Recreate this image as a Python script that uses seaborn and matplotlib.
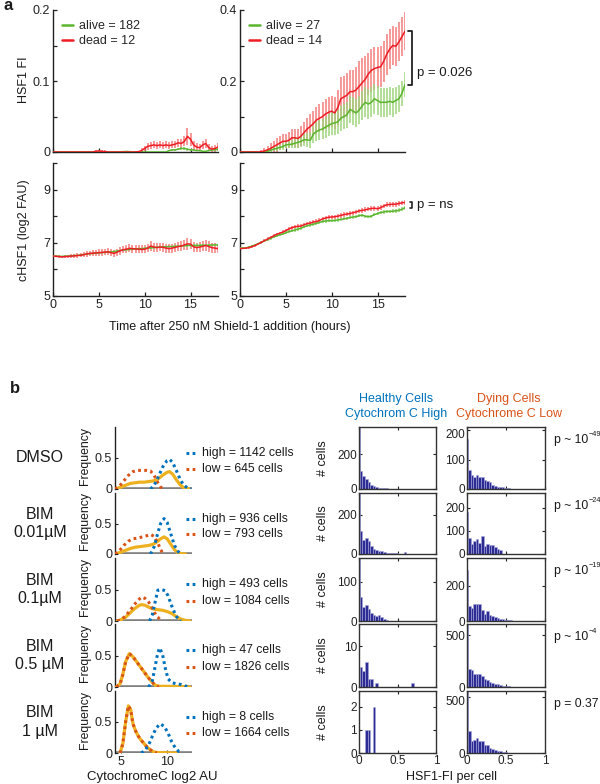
import numpy as np
import pandas as pd
import matplotlib
matplotlib.use("Agg")
import matplotlib.pyplot as plt
from matplotlib.lines import Line2D
from matplotlib.transforms import ScaledTranslation
import seaborn as sns

# ---------------- data: panel a (time courses, every 20 min) ----------------
hours_per_step = 1 / 3
tl_dead_m = [0.0] * 14 + [0.001, 0.0015, 0.001, 0.0005, 0, 0, 0, 0, 0, 0, 0, 0, 0, 0, 0.0005,
             0.002, 0.005, 0.008, 0.009, 0.01, 0.009, 0.01, 0.009, 0.01, 0.009, 0.01, 0.011, 0.013,
             0.012, 0.015, 0.022, 0.018, 0.01, 0.007, 0.006, 0.01, 0.012, 0.006, 0.004, 0.005, 0.007]
tl_dead_e = [0.0] * 14 + [0.002, 0.002, 0.002, 0.002] + [0.0] * 11 + \
            [0.003, 0.004, 0.005, 0.005, 0.005, 0.005, 0.005, 0.005, 0.005, 0.005, 0.005, 0.005, 0.006,
             0.006, 0.007, 0.012, 0.009, 0.006, 0.005, 0.005, 0.006, 0.006, 0.005, 0.005, 0.005, 0.005]
tl_alive_m = [0.0] * 23 + [0.0005, 0.0008, 0.0005] + [0.0] * 12 + \
             [0.002, 0.003, 0.003, 0.004, 0.005, 0.005, 0.004, 0.003, 0.003, 0.002, 0.002, 0.001,
              0.001, 0.002, 0.003, 0.003, 0.004]
tl_alive_e = [0.0] * 38 + [0.001, 0.001, 0.0015, 0.0015, 0.002, 0.002, 0.002, 0.0015, 0.0015, 0.001,
                           0.001, 0.001, 0.001, 0.001, 0.0015, 0.0015, 0.002]

tr_dead_m = [0.0] * 7 + [0.001, 0.003, 0.006, 0.01, 0.015, 0.02, 0.025, 0.03, 0.03, 0.033,
                         0.04, 0.04, 0.038, 0.045, 0.055, 0.065, 0.072, 0.08, 0.09, 0.095,
                         0.1, 0.107, 0.112, 0.115, 0.11, 0.125, 0.15, 0.155, 0.16, 0.17,
                         0.17, 0.175, 0.185, 0.195, 0.205, 0.22, 0.23, 0.235, 0.238, 0.24,
                         0.255, 0.275, 0.29, 0.3, 0.298, 0.31, 0.325, 0.34]
tr_dead_e = [0.0] * 7 + [0.004, 0.008, 0.012, 0.015, 0.017, 0.019, 0.02, 0.02, 0.02, 0.022,
                         0.024, 0.025, 0.026, 0.028, 0.03, 0.032, 0.034, 0.036, 0.038, 0.04,
                         0.042, 0.043, 0.044, 0.044, 0.045, 0.05, 0.06, 0.06, 0.062, 0.06,
                         0.062, 0.065, 0.07, 0.07, 0.065, 0.06, 0.06, 0.06, 0.058, 0.058,
                         0.058, 0.058, 0.056, 0.055, 0.055, 0.055, 0.055, 0.054]
tr_alive_m = [0.0] * 9 + [0.002, 0.005, 0.008, 0.01, 0.013, 0.015, 0.02, 0.021, 0.022, 0.025,
                          0.027, 0.03, 0.035, 0.034, 0.033, 0.05, 0.058, 0.062, 0.065, 0.07,
                          0.075, 0.08, 0.082, 0.085, 0.095, 0.1, 0.105, 0.12, 0.115, 0.11,
                          0.118, 0.13, 0.14, 0.135, 0.14, 0.15, 0.145, 0.14, 0.14, 0.14,
                          0.143, 0.14, 0.145, 0.15, 0.165, 0.19]
tr_alive_e = [0.0] * 9 + [0.004, 0.005, 0.006, 0.007, 0.008, 0.009, 0.01, 0.011, 0.012, 0.014,
                          0.016, 0.017, 0.018, 0.02, 0.022, 0.024, 0.026, 0.028, 0.029, 0.03,
                          0.031, 0.032, 0.033, 0.034, 0.035, 0.036, 0.037, 0.038, 0.04, 0.04,
                          0.04, 0.041, 0.042, 0.042, 0.042, 0.042, 0.042, 0.041, 0.041, 0.04,
                          0.04, 0.04, 0.039, 0.038, 0.036, 0.035]

bl_dead_m = [6.50, 6.49, 6.48, 6.47, 6.48, 6.49, 6.50, 6.51, 6.52, 6.53,
             6.55, 6.58, 6.60, 6.61, 6.62, 6.63, 6.64, 6.65, 6.66, 6.63,
             6.60, 6.65, 6.70, 6.74, 6.76, 6.79, 6.78, 6.77, 6.76, 6.75,
             6.76, 6.80, 6.88, 6.84, 6.82, 6.84, 6.83, 6.80, 6.78, 6.80,
             6.83, 6.86, 6.88, 6.92, 6.96, 6.95, 6.85, 6.82, 6.84, 6.87,
             6.90, 6.86, 6.82, 6.80, 6.78]
bl_dead_e = [0.04, 0.04, 0.05, 0.05, 0.06, 0.06, 0.07, 0.07, 0.08, 0.08,
             0.09, 0.10, 0.10, 0.11, 0.11, 0.12, 0.12, 0.12, 0.13, 0.13,
             0.13, 0.13, 0.14, 0.14, 0.14, 0.15, 0.15, 0.15, 0.15, 0.15,
             0.15, 0.16, 0.20, 0.17, 0.16, 0.16, 0.17, 0.17, 0.17, 0.17,
             0.18, 0.18, 0.18, 0.20, 0.22, 0.20, 0.18, 0.18, 0.18, 0.19,
             0.20, 0.20, 0.19, 0.18, 0.18]
bl_alive_m = [6.50, 6.50, 6.49, 6.49, 6.50, 6.50, 6.51, 6.52, 6.53, 6.54,
              6.56, 6.58, 6.59, 6.60, 6.61, 6.62, 6.63, 6.64, 6.65, 6.66,
              6.67, 6.69, 6.71, 6.73, 6.74, 6.75, 6.76, 6.77, 6.78, 6.78,
              6.79, 6.80, 6.81, 6.82, 6.83, 6.84, 6.85, 6.85, 6.86, 6.86,
              6.87, 6.87, 6.88, 6.89, 6.90, 6.90, 6.90, 6.90, 6.90, 6.91,
              6.91, 6.91, 6.92, 6.92, 6.92]
bl_alive_e = [0.02, 0.02, 0.02, 0.02, 0.02, 0.02, 0.02, 0.025, 0.025, 0.025,
              0.025, 0.025, 0.025, 0.03, 0.03, 0.03, 0.03, 0.03, 0.03, 0.03,
              0.03, 0.03, 0.03, 0.03, 0.03, 0.03, 0.03, 0.03, 0.03, 0.03,
              0.035, 0.035, 0.035, 0.035, 0.035, 0.035, 0.035, 0.035, 0.035, 0.035,
              0.035, 0.035, 0.04, 0.04, 0.04, 0.04, 0.04, 0.04, 0.04, 0.04,
              0.04, 0.04, 0.04, 0.04, 0.04]

br_dead_m = [6.78, 6.79, 6.80, 6.82, 6.86, 6.90, 6.96, 7.02, 7.08, 7.14,
             7.20, 7.26, 7.32, 7.36, 7.40, 7.46, 7.52, 7.57, 7.60, 7.62,
             7.63, 7.68, 7.72, 7.74, 7.78, 7.80, 7.84, 7.90, 7.93, 7.96,
             7.97, 7.98, 8.00, 8.03, 8.06, 8.08, 8.10, 8.13, 8.16, 8.20,
             8.22, 8.24, 8.27, 8.29, 8.30, 8.28, 8.32, 8.38, 8.43, 8.44,
             8.45, 8.45, 8.48, 8.50, 8.52]
br_dead_e = [0.04, 0.04, 0.04, 0.05, 0.05, 0.05, 0.05, 0.05, 0.06, 0.06,
             0.06, 0.06, 0.06, 0.06, 0.07, 0.07, 0.07, 0.07, 0.07, 0.07,
             0.07, 0.07, 0.07, 0.07, 0.08, 0.08, 0.08, 0.08, 0.08, 0.08,
             0.08, 0.08, 0.08, 0.08, 0.08, 0.08, 0.08, 0.08, 0.08, 0.08,
             0.09, 0.09, 0.09, 0.09, 0.09, 0.09, 0.09, 0.09, 0.09, 0.09,
             0.09, 0.09, 0.09, 0.09, 0.09]
br_alive_m = [6.80, 6.80, 6.81, 6.84, 6.88, 6.92, 6.97, 7.02, 7.07, 7.12,
              7.17, 7.22, 7.26, 7.30, 7.33, 7.38, 7.42, 7.45, 7.48, 7.52,
              7.55, 7.60, 7.64, 7.67, 7.70, 7.73, 7.77, 7.80, 7.82, 7.83,
              7.83, 7.84, 7.86, 7.88, 7.90, 7.92, 7.95, 7.97, 7.98, 8.02,
              8.04, 8.00, 7.98, 8.00, 8.06, 8.10, 8.14, 8.16, 8.18, 8.18,
              8.19, 8.20, 8.22, 8.26, 8.32]
br_alive_e = [0.03, 0.03, 0.03, 0.04, 0.04, 0.04, 0.04, 0.04, 0.05, 0.05,
              0.05, 0.05, 0.05, 0.05, 0.05, 0.05, 0.05, 0.05, 0.06, 0.06,
              0.06, 0.06, 0.06, 0.06, 0.06, 0.06, 0.06, 0.06, 0.06, 0.06,
              0.06, 0.06, 0.06, 0.06, 0.06, 0.06, 0.06, 0.06, 0.06, 0.06,
              0.06, 0.06, 0.06, 0.06, 0.07, 0.07, 0.07, 0.07, 0.07, 0.07,
              0.07, 0.07, 0.07, 0.07, 0.07]

left_labels = ["alive = 182", "dead = 12"]
right_labels = ["alive = 27", "dead = 14"]

# ---------------- data: panel b ----------------
conditions = ["DMSO", "BIM\n0.01µM", "BIM\n0.1µM", "BIM\n0.5 µM", "BIM\n1 µM"]
high_cells = [1142, 936, 493, 47, 8]
low_cells = [645, 793, 1084, 1826, 1664]
p_base = ["p ~ 10", "p ~ 10", "p ~ 10", "p ~ 10", "p = 0.37"]
p_exp = ["\u221249", "\u221224", "\u221219", "\u22124", ""]

high_x = [[8.2, 8.6, 9.0, 9.5, 10.0, 10.25, 10.6, 11.0, 11.4, 11.8, 12.3, 12.6],
          [8.2, 8.6, 9.0, 9.3, 9.67, 10.0, 10.4, 10.8, 11.2, 11.5],
          [8.1, 8.4, 8.7, 9.0, 9.4, 9.8, 10.1, 10.5, 10.9, 11.2, 11.5],
          [8.0, 8.4, 8.8, 9.0, 9.2, 9.5, 9.8, 10.1, 10.5, 11.0, 11.5, 12.0, 12.5],
          [7.2, 7.6, 8.0, 8.4, 8.8, 9.25, 9.7, 10.1, 10.5, 10.9, 11.3, 11.6]]
high_y = [[0, 0.06, 0.18, 0.35, 0.46, 0.48, 0.43, 0.30, 0.16, 0.06, 0.01, 0],
          [0, 0.12, 0.35, 0.50, 0.58, 0.52, 0.33, 0.14, 0.04, 0],
          [0, 0.10, 0.30, 0.49, 0.50, 0.48, 0.40, 0.24, 0.10, 0.03, 0],
          [0, 0.10, 0.40, 0.55, 0.62, 0.52, 0.30, 0.13, 0.07, 0.05, 0.04, 0.015, 0],
          [0, 0.04, 0.13, 0.27, 0.40, 0.47, 0.43, 0.32, 0.18, 0.08, 0.02, 0]]
low_x = [[4.35, 4.8, 5.3, 5.8, 6.3, 6.8, 7.3, 7.8, 8.2, 8.6, 9.0, 9.3, 9.6],
         [4.35, 4.8, 5.3, 5.8, 6.3, 6.8, 7.3, 7.8, 8.2, 8.6, 9.0, 9.3, 9.6],
         [4.6, 5.0, 5.5, 6.0, 6.5, 7.0, 7.25, 7.6, 8.0, 8.4, 8.8, 9.2, 9.5],
         [4.5, 4.9, 5.2, 5.5, 5.9, 6.3, 6.7, 7.1, 7.5, 7.9, 8.3, 8.7, 9.1],
         [4.9, 5.2, 5.5, 5.8, 6.05, 6.3, 6.6, 6.85, 7.1, 7.4, 7.8, 8.1, 8.5, 8.9]]
low_y = [[0, 0.04, 0.13, 0.22, 0.28, 0.30, 0.30, 0.30, 0.29, 0.22, 0.10, 0.03, 0],
         [0, 0.05, 0.14, 0.21, 0.25, 0.26, 0.28, 0.30, 0.32, 0.29, 0.18, 0.07, 0],
         [0, 0.02, 0.08, 0.17, 0.27, 0.35, 0.38, 0.36, 0.30, 0.20, 0.09, 0.03, 0],
         [0, 0.05, 0.20, 0.40, 0.53, 0.48, 0.40, 0.32, 0.24, 0.16, 0.09, 0.03, 0],
         [0, 0.15, 0.50, 0.76, 0.70, 0.47, 0.35, 0.28, 0.22, 0.17, 0.10, 0.06, 0.02, 0]]
all_x = [[4.35, 5.0, 5.5, 6.0, 6.5, 7.0, 7.5, 8.0, 8.5, 9.0, 9.5, 10.0, 10.25, 10.6, 11.0, 11.4, 11.8, 12.4],
         [4.35, 5.0, 5.5, 6.0, 6.5, 7.0, 7.5, 8.0, 8.5, 9.0, 9.3, 9.67, 10.0, 10.4, 10.8, 11.2, 11.6, 12.0],
         [4.6, 5.0, 5.5, 6.0, 6.5, 7.0, 7.25, 7.6, 8.0, 8.5, 9.0, 9.5, 10.0, 10.5, 11.0, 11.5, 12.0, 12.5],
         [4.5, 4.9, 5.2, 5.5, 5.9, 6.3, 6.7, 7.1, 7.5, 7.9, 8.3, 8.7, 9.1, 10.0, 11.0, 12.0, 12.5],
         [4.9, 5.2, 5.5, 5.8, 6.05, 6.3, 6.6, 6.85, 7.1, 7.4, 7.8, 8.1, 8.5, 8.9, 10.0, 11.0]]
all_y = [[0, 0.03, 0.06, 0.09, 0.10, 0.11, 0.11, 0.12, 0.13, 0.16, 0.22, 0.27, 0.28, 0.24, 0.15, 0.07, 0.02, 0],
         [0, 0.03, 0.06, 0.09, 0.11, 0.12, 0.13, 0.14, 0.16, 0.21, 0.25, 0.28, 0.25, 0.16, 0.07, 0.02, 0.005, 0],
         [0, 0.02, 0.06, 0.13, 0.20, 0.25, 0.26, 0.25, 0.22, 0.19, 0.18, 0.17, 0.15, 0.12, 0.07, 0.03, 0.01, 0],
         [0, 0.05, 0.20, 0.40, 0.53, 0.48, 0.40, 0.32, 0.24, 0.16, 0.09, 0.03, 0.012, 0.01, 0.008, 0.004, 0],
         [0, 0.15, 0.50, 0.76, 0.70, 0.47, 0.35, 0.28, 0.22, 0.17, 0.10, 0.06, 0.02, 0.008, 0.004, 0]]

# histogram counts: first value = cells at zero, then bins of width 1/30
healthy_counts = [[355, 105, 76, 55, 38, 25, 15, 9, 8, 7, 4, 3, 2, 2, 1, 1, 1],
                  [310, 116, 73, 81, 65, 40, 26, 18, 15, 14, 9, 7, 5, 4, 4, 3, 2, 2, 8, 1],
                  [160, 61, 35, 40, 31, 21, 15, 12, 14, 9, 4, 2, 1, 1, 1],
                  [0, 5, 4, 6, 2, 2, 0, 1, 0, 0, 0, 0, 0, 0, 0, 0, 0, 0, 0, 0, 0, 1],
                  [0, 0, 0, 1, 1, 0, 2]]
dying_counts = [[171, 65, 49, 40, 48, 42, 42, 29, 26, 23, 14, 11, 8, 6, 8, 2, 2, 1, 1],
                [183, 71, 44, 57, 64, 47, 79, 36, 43, 37, 37, 29, 21, 16, 2, 0, 2, 2, 1],
                [292, 86, 75, 97, 95, 99, 61, 40, 58, 32, 28, 24, 18, 14, 9, 6, 4, 3, 2, 1, 1],
                [606, 174, 161, 129, 129, 126, 103, 81, 65, 48, 42, 32, 26, 16, 13, 10, 6, 4, 3, 2, 1],
                [551, 193, 107, 113, 131, 107, 107, 74, 71, 45, 33, 30, 21, 18, 9, 6, 4, 3, 2, 1, 1]]
healthy_ymax = [355, 310, 160, 15.4, 2.68]
healthy_yticks = [[0, 200], [0, 200], [0, 100], [0, 10], [0, 1, 2]]
dying_ymax = [211, 264, 360, 606, 551]
dying_yticks = [[0, 100, 200], [0, 100, 200], [0, 200], [0, 500], [0, 500]]

# ---------------- style ----------------
sns.set_theme(style="ticks")
plt.rcParams['font.family'] = ['Liberation Sans', 'DejaVu Sans']

W, H = 600, 784
fig = plt.figure(figsize=(W / 100, H / 100), dpi=100)
fig.patch.set_facecolor('white')

TXT = '#1a1a1a'
RED, RED_E = '#ee1c24', '#f47c7c'
GRN, GRN_E = '#5ab42e', '#9fd57c'
BLUE, ORANGE, YEL = '#0072BD', '#D95319', '#EDB120'
BAR_FACE, BAR_EDGE = '#2c2c94', '#a9a9dc'


def add_ax(x0, y0, x1, y1):
    return fig.add_axes([x0 / W, 1 - y1 / H, (x1 - x0) / W, (y1 - y0) / H])


def ftext(x, y, s, **kw):
    kw.setdefault('color', TXT)
    return fig.text(x / W, 1 - y / H, s, **kw)


def style_a(ax):
    sns.despine(ax=ax)
    for s in ['left', 'bottom']:
        ax.spines[s].set_color('#222222')
        ax.spines[s].set_linewidth(1.0)
    ax.tick_params(direction='in', length=3, width=0.9, labelsize=9, pad=2,
                   colors='#222222', left=True, bottom=True)
    ax.set_xlim(0, 18)
    ax.set_xticks([0, 5, 10, 15])


def series(ax, dm, de, am, ae, labels=None):
    t = np.arange(len(dm)) * hours_per_step
    dm, de, am, ae = map(np.asarray, (dm, de, am, ae))
    ax.vlines(t, dm - de, dm + de, color=RED_E, lw=1.1, zorder=2)
    ax.vlines(t, am - ae, am + ae, color=GRN_E, lw=1.1, zorder=3)
    sns.lineplot(x=t, y=am, ax=ax, color=GRN, lw=1.1, zorder=4)
    sns.lineplot(x=t, y=dm, ax=ax, color=RED, lw=1.1, zorder=5)
    if ax.get_legend():
        ax.get_legend().remove()
    if labels:
        handles = [Line2D([], [], color=GRN, lw=1.8), Line2D([], [], color=RED, lw=1.8)]
        ax.legend(handles, labels, loc='upper left', bbox_to_anchor=(0.055, 0.93),
                  frameon=False, fontsize=9, handlelength=0.9, handletextpad=0.45,
                  labelspacing=0.25, borderaxespad=0, borderpad=0)
    ax.set_xlabel('')
    ax.set_ylabel('')


# ---------------- panel a ----------------
ax_tl = add_ax(53, 10, 218, 152)
series(ax_tl, tl_dead_m, tl_dead_e, tl_alive_m, tl_alive_e, left_labels)
style_a(ax_tl)
ax_tl.set_ylim(0, 0.2)
ax_tl.set_yticks([0, 0.05, 0.1, 0.15, 0.2])
ax_tl.set_yticklabels(['0', '', '0.1', '', '0.2'])
ax_tl.set_xticklabels([])

ax_tr = add_ax(240, 10, 405, 152)
series(ax_tr, tr_dead_m, tr_dead_e, tr_alive_m, tr_alive_e, right_labels)
style_a(ax_tr)
ax_tr.set_ylim(0, 0.4)
ax_tr.set_yticks([0, 0.1, 0.2, 0.3, 0.4])
ax_tr.set_yticklabels(['0', '', '0.2', '', '0.4'])
ax_tr.set_xticklabels([])
r_end, g_end = tr_dead_m[-1], tr_alive_m[-1]
ax_tr.plot([18.35, 18.8, 18.8, 18.35], [r_end, r_end, g_end, g_end], color='#222222',
           lw=1.3, clip_on=False)
ax_tr.text(19.3, 0.222, 'p = 0.026', va='center', ha='left', fontsize=9.5, color=TXT)

ax_bl = add_ax(53, 163, 218, 296)
series(ax_bl, bl_dead_m, bl_dead_e, bl_alive_m, bl_alive_e)
style_a(ax_bl)
ax_bl.set_ylim(5, 10)
ax_bl.set_yticks([5, 6, 7, 8, 9, 10])
ax_bl.set_yticklabels(['5', '', '7', '', '9', ''])
ax_bl.set_xticklabels(['0', '5', '10', '15'])

ax_br = add_ax(240, 163, 405, 296)
series(ax_br, br_dead_m, br_dead_e, br_alive_m, br_alive_e)
style_a(ax_br)
ax_br.set_ylim(5, 10)
ax_br.set_yticks([5, 6, 7, 8, 9, 10])
ax_br.set_yticklabels(['5', '', '7', '', '9', ''])
ax_br.set_xticklabels(['0', '5', '10', '15'])
r_end, g_end = br_dead_m[-1] + 0.03, br_alive_m[-1]
ax_br.plot([18.5, 18.8, 18.8, 18.5], [r_end, r_end, g_end, g_end], color='#222222',
           lw=1.2, clip_on=False)
ax_br.text(19.3, (r_end + g_end) / 2, 'p = ns', va='center', ha='left', fontsize=9.5, color=TXT)

ftext(4, 6, 'a', fontsize=12, fontweight='bold', ha='left', va='center')
ftext(24, 80, 'HSF1 FI', rotation=90, ha='center', va='center', fontsize=9)
ftext(24, 230, 'cHSF1 (log2 FAU)', rotation=90, ha='center', va='center', fontsize=9)
ftext(230, 327, 'Time after 250 nM Shield-1 addition (hours)', ha='center', va='center', fontsize=9)

# ---------------- panel b ----------------
ftext(15, 388, 'b', fontsize=12, fontweight='bold', ha='center', va='center')
rows = [(427, 489), (493, 554), (558, 621), (624, 687), (691, 753)]
dotted = (0, (0.9, 1.1))

SPIKE = 0.012
edges = [0.0, SPIKE] + [SPIKE + k / 30 for k in range(1, 31)]
centers = [(a + b) / 2 for a, b in zip(edges[:-1], edges[1:])]


def draw_hist(ax, counts, ymax, yticks, last):
    c = list(counts) + [0] * (len(centers) - len(counts))
    df = pd.DataFrame({'x': centers, 'w': c})
    sns.histplot(data=df, x='x', weights='w', bins=edges, ax=ax, color=BAR_FACE,
                 edgecolor=BAR_EDGE, linewidth=0.4, alpha=1)
    ax.set_xlim(0, 1)
    ax.set_ylim(0, ymax)
    ax.set_yticks(yticks)
    ax.set_yticklabels([str(v) for v in yticks])
    ax.set_xticks([0, 0.5, 1])
    ax.set_xticklabels(['0', '0.5', '1'] if last else [])
    for s in ax.spines.values():
        s.set_visible(True)
        s.set_color('#333333')
        s.set_linewidth(1.0)
    ax.tick_params(direction='in', length=2.5, width=0.8, labelsize=8.5, pad=1.5,
                   colors='#222222', top=True, right=True, left=True, bottom=True)
    # keep a label that sits right under the top edge from touching the row above
    for val, lab in zip(yticks, ax.get_yticklabels()):
        if val > 0 and (ymax - val) / ymax < 0.12:
            lab.set_transform(lab.get_transform() + ScaledTranslation(0, -2.5 / 72, fig.dpi_scale_trans))
    ax.set_xlabel('')
    ax.set_ylabel('')


n = len(conditions)
for i, (y0, y1) in enumerate(rows):
    last = i == n - 1
    cy = (y0 + y1) / 2
    # density panel
    ax = add_ax(115, y0, 192, y1)
    ax.axhline(0, color='#808080', lw=2.6, zorder=1)
    sns.lineplot(x=all_x[i], y=all_y[i], ax=ax, color=YEL, lw=2.3, zorder=3)
    sns.lineplot(x=low_x[i], y=low_y[i], ax=ax, color=ORANGE, lw=2.2, linestyle=dotted, zorder=4)
    sns.lineplot(x=high_x[i], y=high_y[i], ax=ax, color=BLUE, lw=2.2, linestyle=dotted, zorder=5)
    ax.set_xlim(4.35, 12.7)
    ax.set_ylim(0, 1.0)
    sns.despine(ax=ax, bottom=True)
    ax.spines['left'].set_color('#222222')
    ax.spines['left'].set_linewidth(1.0)
    ax.set_yticks([0, 0.5])
    ax.set_yticklabels(['0', '0.5'])
    if last:
        ax.set_xticks([5, 10])
        ax.set_xticklabels(['5', '10'])
    else:
        ax.set_xticks([])
    ax.tick_params(direction='in', length=2.5, width=0.8, labelsize=9, pad=2,
                   colors='#222222', left=True, bottom=last)
    ax.set_xlabel('')
    ax.set_ylabel('')
    for frac, col, txt in [(0.58, BLUE, f'high = {high_cells[i]} cells'),
                           (0.32, ORANGE, f'low = {low_cells[i]} cells')]:
        ax.plot([0.92, 1.08], [frac, frac], transform=ax.transAxes, color=col, lw=2.2,
                linestyle=dotted, clip_on=False)
        ax.text(1.125, frac, txt, transform=ax.transAxes, ha='left', va='center',
                fontsize=8.8, color=TXT)
    ftext(40, cy, conditions[i], ha='center', va='center', fontsize=11.5, linespacing=1.3)
    ftext(85, cy - 2, 'Frequency', rotation=90, ha='center', va='center', fontsize=8.8)

    # histograms
    axh = add_ax(359, y0, 436, y1)
    draw_hist(axh, healthy_counts[i], healthy_ymax[i], healthy_yticks[i], last)
    axd = add_ax(467, y0, 545, y1)
    draw_hist(axd, dying_counts[i], dying_ymax[i], dying_yticks[i], last)
    ftext(323, cy, '# cells', rotation=90, ha='center', va='center', fontsize=9)
    base = ftext(554, y0 + 13, p_base[i], ha='left', va='center', fontsize=8.8)
    if p_exp[i]:
        fig.add_artist(matplotlib.text.Annotation(
            p_exp[i], xy=(1.0, 0.95), xycoords=base, ha='left', va='center',
            fontsize=5.3, color=TXT))

ftext(396, 399, 'Healthy Cells', ha='center', va='center', fontsize=9, color=BLUE)
ftext(396, 414, 'Cytochrom C High', ha='center', va='center', fontsize=9, color=BLUE)
ftext(509, 399, 'Dying Cells', ha='center', va='center', fontsize=9, color=ORANGE)
ftext(509, 414, 'Cytochrome C Low', ha='center', va='center', fontsize=9, color=ORANGE)

ftext(152, 777, 'CytochromeC log2 AU', ha='center', va='center', fontsize=9.5)
ftext(451, 777, 'HSF1-FI per cell', ha='center', va='center', fontsize=9)

fig.savefig('out.png', dpi=100, facecolor='white')
